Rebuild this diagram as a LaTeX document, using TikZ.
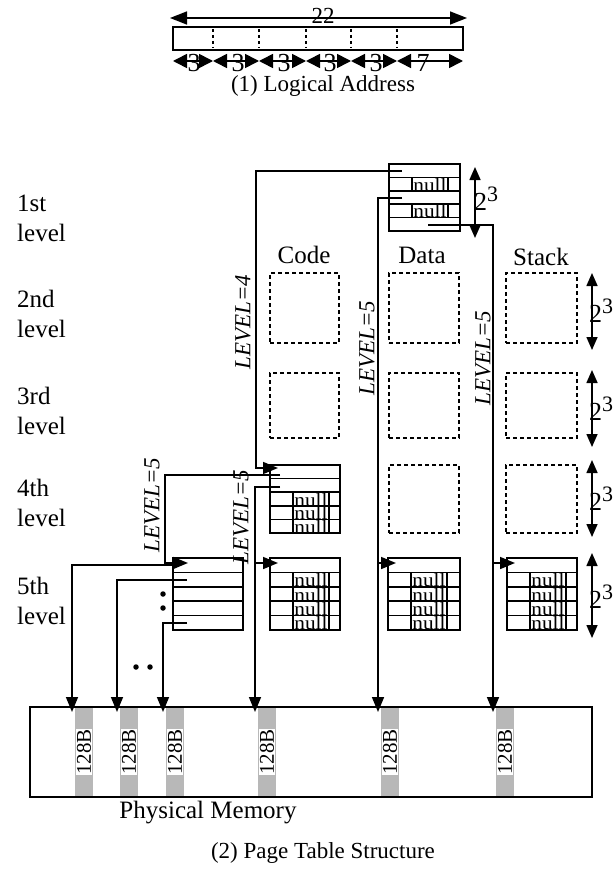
\documentclass[tikz,border=0pt]{standalone}
\usepackage{fontspec}
\setmainfont{Liberation Serif}
\usetikzlibrary{arrows.meta,calc}
\tikzset{
 ln/.style={line width=1.6pt},
 arrline/.style={ln, -{Triangle[length=15pt,width=12pt]}},
 darr/.style={ln, {Triangle[length=13pt,width=11pt]}-{Triangle[length=13pt,width=11pt]}},
 segarr/.style={ln, {Triangle[length=14pt,width=14pt]}-{Triangle[length=14pt,width=14pt]}},
 bigdarr/.style={ln, {Triangle[length=17pt,width=13pt]}-{Triangle[length=17pt,width=13pt]}},
 tab/.style={draw, ln, anchor=north west, inner sep=0pt, outer sep=0pt},
 dbox/.style={draw, line width=1.4pt, dash pattern=on 4pt off 3pt, anchor=north west, inner sep=0pt, outer sep=0pt},
 lbl/.style={font=\fontsize{25}{30}\selectfont, inner sep=0pt},
 captxt/.style={font=\fontsize{23}{23}\selectfont, inner sep=0pt},
 num/.style={font=\fontsize{23}{23}\selectfont, inner sep=0pt},
 bignum/.style={font=\fontsize{26}{26}\selectfont, inner sep=0pt},
 suptxt/.style={font=\fontsize{26}{26}\selectfont, inner sep=0pt},
 lev/.style={font=\fontsize{23}{23}\selectfont\itshape, rotate=90, inner sep=0pt},
 nulltxt/.style={font=\fontsize{19}{19}\selectfont, inner sep=0pt},
 bt/.style={font=\fontsize{21}{21}\selectfont, rotate=90, fill=white, inner sep=0.5pt},
 dotn/.style={circle, fill, inner sep=0pt, minimum size=5.5pt},
}
\newcommand{\ptab}[5]{%
  \node[tab, minimum width=#4pt, minimum height=#5pt] (#1) at (#2,#3) {};
  \foreach \k in {1,2,3,4} {\draw[ln] (#2,#3+\k*#5/5) -- (#2+#4,#3+\k*#5/5);}
}
\newcommand{\pnull}[5]{%
  \foreach \k in {#5} {
    \node[nulltxt] (#1n\k) at (#2+41,#3+\k*#4-#4/2+0.5) {\scalebox{1.12}[1]{null}};
    \draw[ln] (#2+23,#3+\k*#4-#4) -- (#2+23,#3+\k*#4);
    \draw[ln] (#2+59,#3+\k*#4-#4) -- (#2+59,#3+\k*#4);
  }
}
\newcommand{\twothree}[1]{2\raisebox{9pt}{\fontsize{22}{22}\selectfont 3}}
\begin{document}
\begin{tikzpicture}[x=1pt,y=-1pt]
\useasboundingbox (0,0) rectangle (615,872);

% ---------- (1) Logical address ----------
\node[tab, minimum width=290pt, minimum height=23pt] (addr) at (173,27) {};
\foreach \xx in {213,259,306,351,397}
  \draw[line width=1.8pt, dash pattern=on 3pt off 3pt] (\xx,29) -- (\xx,48);
\coordinate (t0) at (170,18);
\coordinate (t1) at (467,18);
\draw[bigdarr] (t0) -- (t1);
\node[num] (n22) at (323,16) {22};
\foreach \a/\b/\lab/\lx [count=\i] in {173/213/3/194, 213/259/3/238, 259/306/3/284, 306/351/3/330, 351/397/3/376, 397/463/7/423} {
  \coordinate (sa\i) at (\a,61);
  \coordinate (sb\i) at (\b,61);
  \draw[segarr] (sa\i) -- (sb\i);
  \node[bignum] (seg\i) at (\lx,63) {\lab};
}
\node[captxt] (cap1) at (323,86) {(1) Logical Address};

% ---------- level labels ----------
\node[lbl, align=left, anchor=west] (lv1) at (17,218) {1st\\level};
\node[lbl, align=left, anchor=west] (lv2) at (17,314) {2nd\\level};
\node[lbl, align=left, anchor=west] (lv3) at (17,411) {3rd\\level};
\node[lbl, align=left, anchor=west] (lv4) at (17,503) {4th\\level};
\node[lbl, align=left, anchor=west] (lv5) at (17,601) {5th\\level};

% ---------- column headers ----------
\node[lbl] (hcode) at (304,255) {Code};
\node[lbl] (hdata) at (422,255) {Data};
\node[lbl] (hstack) at (541,257) {Stack};

% ---------- dashed (absent) tables ----------
\node[dbox, minimum width=69pt, minimum height=70pt] (c2) at (270,273) {};
\node[dbox, minimum width=69pt, minimum height=65pt] (c3) at (270,373) {};
\node[dbox, minimum width=70pt, minimum height=70pt] (d2) at (389,273) {};
\node[dbox, minimum width=70pt, minimum height=65pt] (d3) at (389,373) {};
\node[dbox, minimum width=70pt, minimum height=68pt] (d4) at (389,465) {};
\node[dbox, minimum width=71pt, minimum height=70pt] (s2) at (506,273) {};
\node[dbox, minimum width=71pt, minimum height=65pt] (s3) at (506,373) {};
\node[dbox, minimum width=71pt, minimum height=68pt] (s4) at (506,465) {};

% ---------- real tables ----------
\ptab{L1}{389}{164}{71}{67}
\pnull{L1}{389}{164}{13.4}{2,4}
\ptab{C4}{270}{465}{70}{68}
\pnull{C4}{270}{465}{13.6}{3,4,5}
\ptab{L5}{173}{558}{70}{72}
\ptab{C5}{270}{558}{70}{72}
\pnull{C5}{270}{558}{14.4}{2,3,4,5}
\ptab{D5}{388}{558}{72}{72}
\pnull{D5}{388}{558}{14.4}{2,3,4,5}
\ptab{S5}{507}{558}{70}{72}
\pnull{S5}{507}{558}{14.4}{2,3,4,5}

% ---------- 2^3 dimension arrows ----------
\coordinate (ea1) at (475,167); \coordinate (eb1) at (475,238);
\draw[darr] (ea1) -- (eb1);
\node[suptxt] (e1) at (486,199) {\twothree{}};
\foreach \ya/\yb/\yl [count=\i from 2] in {273/350/311, 370/447/409, 460/537/499, 553/638/597} {
  \coordinate (ea\i) at (592,\ya);
  \coordinate (eb\i) at (592,\yb);
  \draw[darr] (ea\i) -- (eb\i);
  \node[suptxt] (e\i) at (601,\yl) {\twothree{}};
}

% ---------- physical memory ----------
\foreach \xx [count=\i] in {75,120,166,258,381,496} {
  \fill[black!28] (\xx,708) rectangle (\xx+18,796);
  \node[bt] (b\i) at (\xx+9,752) {128B};
}
\node[tab, minimum width=562pt, minimum height=90pt] (mem) at (30,707) {};
\node[lbl] (pm) at (208,813) {Physical Memory};
\node[captxt] (cap2) at (323,853) {(2) Page Table Structure};

% ---------- pointer sources / targets ----------
\coordinate (p1) at (402,171);
\coordinate (p3) at (402,198);
\coordinate (p5) at (428,225);
\coordinate (C4in) at (278,468);
\coordinate (c4r1) at (280,475);
\coordinate (c4r2) at (280,487);
\coordinate (L5in) at (188,563);
\coordinate (C5in) at (278,563);
\coordinate (D5in) at (396,563);
\coordinate (S5in) at (515,563);
\coordinate (bc5) at (255,563);
\coordinate (bd5) at (378,563);
\coordinate (bs5) at (493,563);
\coordinate (l5r1) at (177,565);
\coordinate (l5r2) at (187,580);
\coordinate (l5r5) at (187,623);
\coordinate (m1) at (72,712);
\coordinate (m2) at (117,712);
\coordinate (m3) at (163,712);
\coordinate (m4) at (255,712);
\coordinate (m5) at (378,712);
\coordinate (m6) at (493,712);

% ---------- connectors ----------
\draw[arrline] (p1) -| (256,468) -- (C4in);
\draw[arrline] (p3) -| (m5);
\draw[arrline] (p5) -| (m6);
\draw[arrline] (c4r1) -| (165,563) -- (L5in);
\draw[arrline] (c4r2) -| (m4);
\draw[arrline] (bc5) -- (C5in);
\draw[arrline] (bd5) -- (D5in);
\draw[arrline] (bs5) -- (S5in);
\draw[arrline] (l5r1) -| (m1);
\draw[arrline] (l5r2) -| (m2);
\draw[arrline] (l5r5) -| (m3);

% ---------- LEVEL labels ----------
\node[lev] (lvA) at (243,322) {LEVEL=4};
\node[lev] (lvB) at (367,348) {LEVEL=5};
\node[lev] (lvC) at (483,358) {LEVEL=5};
\node[lev] (lvD) at (152,505) {LEVEL=5};
\node[lev] (lvE) at (241,517) {LEVEL=5};

% ---------- ellipsis dots ----------
\node[dotn] (k1) at (163,594) {};
\node[dotn] (k2) at (163,608) {};
\node[dotn] (k3) at (136,667) {};
\node[dotn] (k4) at (150,667) {};
\end{tikzpicture}
\end{document}
